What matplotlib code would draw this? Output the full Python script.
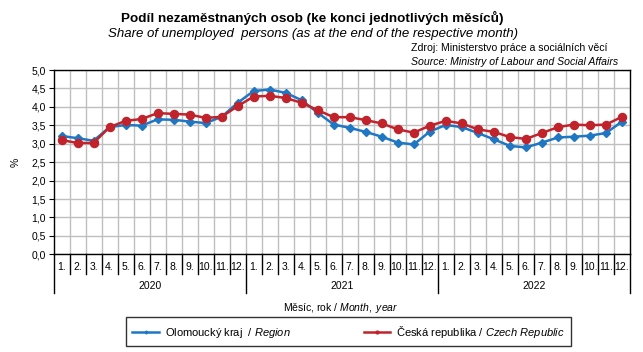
import matplotlib
matplotlib.use("Agg")
import matplotlib.pyplot as plt
from matplotlib import font_manager as fm

plt.rcParams['font.family'] = ['Liberation Sans', 'DejaVu Sans']
plt.rcParams['mathtext.fontset'] = 'custom'
plt.rcParams['mathtext.it'] = 'Liberation Sans:italic'
plt.rcParams['mathtext.rm'] = 'Liberation Sans'

names = {f.name for f in fm.fontManager.ttflist}
narrow = ['Liberation Sans Narrow', 'Liberation Sans'] if 'Liberation Sans Narrow' in names else ['Liberation Sans']

years = ['2020', '2021', '2022']
months = ['1.', '2.', '3.', '4.', '5.', '6.', '7.', '8.', '9.', '10.', '11.', '12.']

olomoucky = [3.21, 3.15, 3.08, 3.45, 3.51, 3.49, 3.66, 3.65, 3.60, 3.56, 3.73, 4.11,
             4.43, 4.47, 4.38, 4.18, 3.84, 3.52, 3.43, 3.32, 3.19, 3.03, 2.98, 3.33,
             3.51, 3.45, 3.29, 3.12, 2.94, 2.90, 3.03, 3.17, 3.19, 3.22, 3.29, 3.60]
cr = [3.10, 3.02, 3.02, 3.45, 3.62, 3.67, 3.83, 3.81, 3.79, 3.70, 3.73, 4.02,
      4.28, 4.30, 4.24, 4.11, 3.91, 3.72, 3.72, 3.64, 3.55, 3.39, 3.30, 3.49,
      3.62, 3.55, 3.39, 3.32, 3.18, 3.13, 3.29, 3.45, 3.52, 3.50, 3.52, 3.73]
yticks = [0.0, 0.5, 1.0, 1.5, 2.0, 2.5, 3.0, 3.5, 4.0, 4.5, 5.0]

W, H = 643, 352
fig = plt.figure(figsize=(W / 100, H / 100), dpi=100)
L, R, T, B = 53.5, 630, 70, 254.3
ax = fig.add_axes([L / W, 1 - B / H, (R - L) / W, (B - T) / H])

n = len(olomoucky)
x = [i + 0.5 for i in range(n)]
blue = '#1f77c4'
red = '#c0232b'
l1, = ax.plot(x, olomoucky, color=blue, lw=1.8, marker='D', ms=4.2, mec=blue, mfc=blue, zorder=3,
              label=r'Olomoucký kraj  / $\it{Region}$')
l2, = ax.plot(x, cr, color=red, lw=1.8, marker='o', ms=5.8, mec=red, mfc=red, zorder=4,
              label=r'Česká republika / $\it{Czech\ Republic}$')

ax.set_xlim(0, n)
ax.set_ylim(0, 5)
ax.set_yticks(yticks)
ax.set_yticklabels([f'{v:.1f}'.replace('.', ',') for v in yticks], fontsize=7.5)
ax.tick_params(axis='y', direction='out', length=3.5, width=0.8, pad=2)
ax.set_xticks(range(1, n))
ax.tick_params(axis='x', length=0, labelbottom=False)
ax.grid(True, color='#bfbfbf', lw=1)
ax.set_axisbelow(True)
for s in ax.spines.values():
    s.set_color('black')
    s.set_linewidth(1)

tr = ax.get_xaxis_transform()
ah = B - T
m_y = -(267.5 - B) / ah
y_y = -(286 - B) / ah
m_sep = -(273.5 - B) / ah
y_sep = -(293 - B) / ah
for i in range(n):
    ax.text(i + 0.5, m_y, months[i % 12], transform=tr, ha='center', va='center', fontsize=7.5)
for i in range(n + 1):
    bottom = y_sep if i % 12 == 0 else m_sep
    ax.plot([i, i], [0, bottom], transform=tr, color='black', lw=1, clip_on=False)
for k, yr in enumerate(years):
    ax.text(k * 12 + 6, y_y, yr, transform=tr, ha='center', va='center', fontsize=7.5)

fig.text(341 / W, 1 - 308 / H, r'Měsíc, rok / $\it{Month,\ year}$', ha='center', va='center', fontsize=7.5)
fig.text(16 / W, 1 - 162 / H, '%', ha='center', va='center', rotation=90, fontsize=7.5)

fig.text(312 / W, 1 - 18 / H, 'Podíl nezaměstnaných osob (ke konci jednotlivých měsíců)',
         ha='center', va='center', fontsize=9.7, fontweight='bold')
fig.text(313 / W, 1 - 34 / H, 'Share of unemployed  persons (as at the end of the respective month)',
         ha='center', va='center', fontsize=9.5, style='italic')
fig.text(411 / W, 1 - 48 / H, 'Zdroj: Ministerstvo práce a sociálních věcí',
         ha='left', va='center', fontsize=7.6, family=narrow)
fig.text(411 / W, 1 - 62 / H, 'Source: Ministry of Labour and Social Affairs',
         ha='left', va='center', fontsize=7.6, family=narrow, style='italic')

leg = fig.legend(handles=[l1, l2], loc='center', bbox_to_anchor=(348.5 / W, 1 - 331.5 / H),
                 ncol=2, fontsize=8, frameon=True, fancybox=False, edgecolor='black',
                 handlelength=2.4, columnspacing=6.6, markerscale=0.35, borderpad=0.55,
                 handletextpad=0.5)
leg.get_frame().set_linewidth(1)

fig.savefig('out.png', dpi=100, facecolor='white')
